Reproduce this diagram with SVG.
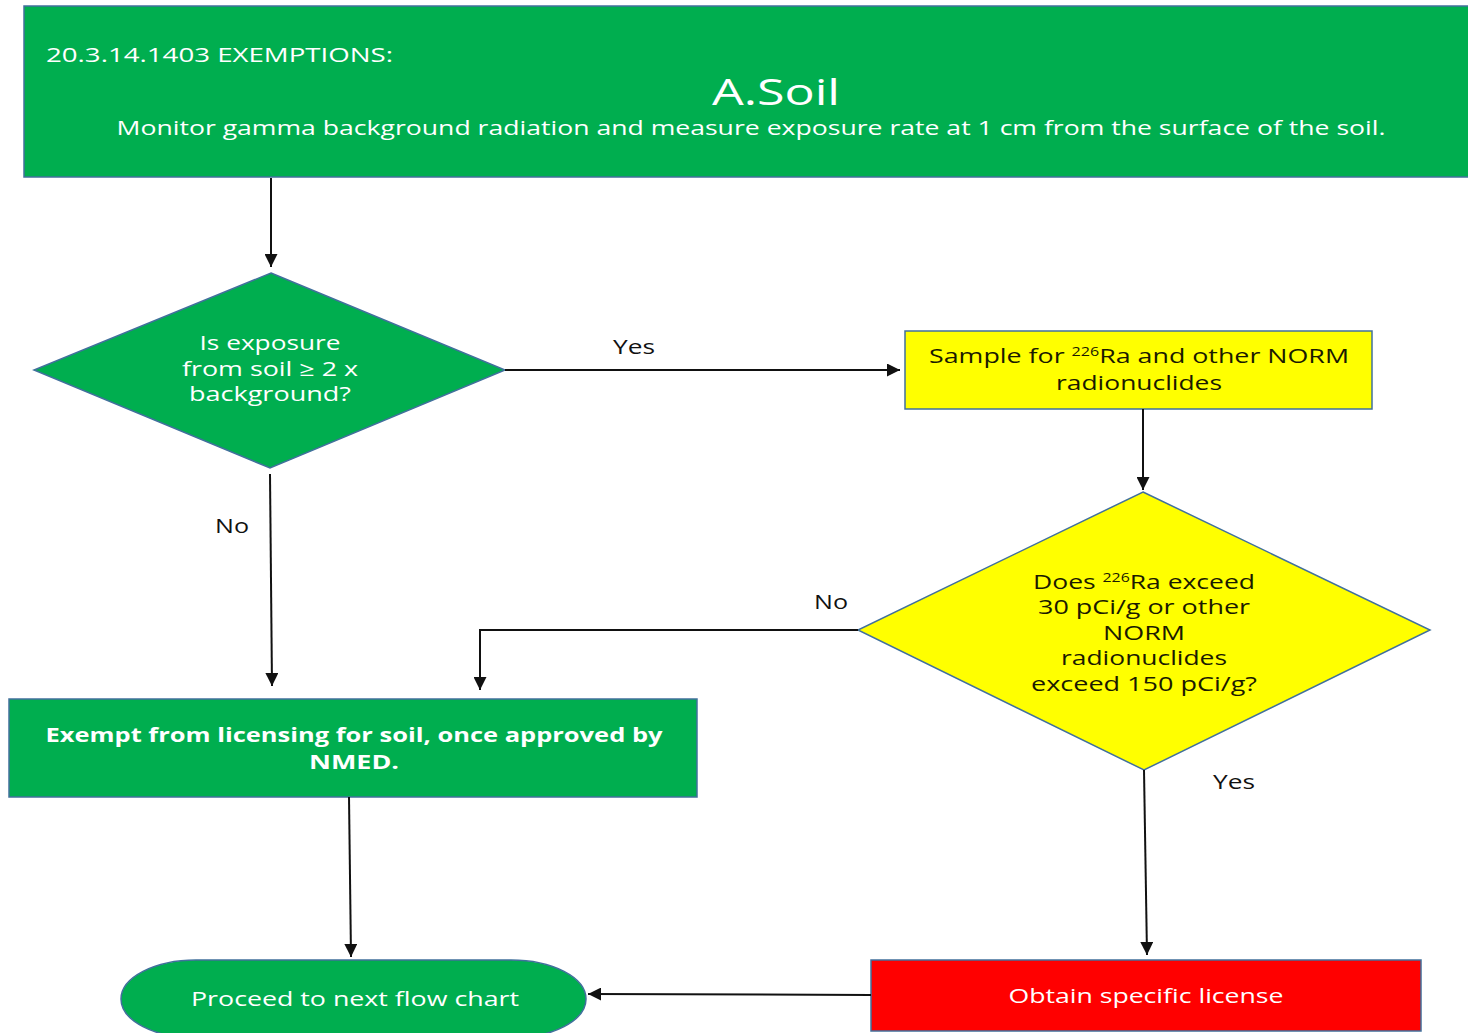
<svg xmlns="http://www.w3.org/2000/svg" width="1468" height="1033" viewBox="0 0 1468 1033">
<defs>
<style>
.g{fill:#00AE4F;stroke:#41709C;stroke-width:1.5}
.y{fill:#FFFF00;stroke:#41709C;stroke-width:1.5}
.r{fill:#FF0000;stroke:#41709C;stroke-width:1.5}
.t{font-family:"Open Sans","Liberation Sans",sans-serif;font-size:20px;text-anchor:middle}
.w{fill:#FFFFFF}
.d{fill:#1a1a00}
.b{font-weight:bold}
.lab{font-family:"Open Sans","Liberation Sans",sans-serif;font-size:20px;fill:#111}
.c{fill:none;stroke:#111;stroke-width:2}
.sup{font-size:12px}
</style>
<marker id="ah" viewBox="0 0 10 10" refX="10" refY="5" markerWidth="6.5" markerHeight="6.5" orient="auto" markerUnits="strokeWidth">
<path d="M0,0 L10,5 L0,10 z" fill="#111"/>
</marker>
</defs>
<rect width="1468" height="1033" fill="#FFFFFF"/>

<g id="header">
<rect class="g" x="24" y="6" width="1450" height="171"/>
<text class="t w" x="46" y="62" style="text-anchor:start" textLength="347" lengthAdjust="spacingAndGlyphs">20.3.14.1403  EXEMPTIONS:</text>
<text class="t w" x="776" y="105" style="font-size:36px" textLength="128" lengthAdjust="spacingAndGlyphs">A.Soil</text>
<text class="t w" x="751" y="135" textLength="1269" lengthAdjust="spacingAndGlyphs">Monitor gamma background radiation and measure exposure rate at 1 cm from the surface of the soil.</text>
</g>

<g id="decision1">
<polygon class="g" points="271,273 505,370 270,468 34,370"/>
<text class="t w" x="270" y="350" textLength="141" lengthAdjust="spacingAndGlyphs">Is exposure</text>
<text class="t w" x="270" y="376" textLength="176" lengthAdjust="spacingAndGlyphs">from soil ≥ 2 x</text>
<text class="t w" x="270" y="401" textLength="162" lengthAdjust="spacingAndGlyphs">background?</text>
</g>

<g id="sample">
<rect class="y" x="905" y="331" width="467" height="78"/>
<text class="t d" x="1139" y="363" textLength="420" lengthAdjust="spacingAndGlyphs">Sample for <tspan class="sup" dy="-7">226</tspan><tspan dy="7">Ra and other NORM</tspan></text>
<text class="t d" x="1139" y="390" textLength="166" lengthAdjust="spacingAndGlyphs">radionuclides</text>
</g>

<g id="decision2">
<polygon class="y" points="1143,492 1430,630 1144,770 858,630"/>
<text class="t d" x="1144" y="589" textLength="222" lengthAdjust="spacingAndGlyphs">Does <tspan class="sup" dy="-7">226</tspan><tspan dy="7">Ra exceed</tspan></text>
<text class="t d" x="1144" y="614" textLength="212" lengthAdjust="spacingAndGlyphs">30 pCi/g or other</text>
<text class="t d" x="1144" y="640" textLength="82" lengthAdjust="spacingAndGlyphs">NORM</text>
<text class="t d" x="1144" y="665" textLength="166" lengthAdjust="spacingAndGlyphs">radionuclides</text>
<text class="t d" x="1144" y="691" textLength="226" lengthAdjust="spacingAndGlyphs">exceed 150 pCi/g?</text>
</g>

<g id="exempt">
<rect class="g" x="9" y="699" width="688" height="98"/>
<text class="t w b" x="354" y="742" textLength="617" lengthAdjust="spacingAndGlyphs">Exempt from licensing for soil, once approved by</text>
<text class="t w b" x="354" y="769" textLength="90" lengthAdjust="spacingAndGlyphs">NMED.</text>
</g>

<g id="proceed">
<rect class="g" x="121" y="960" width="465" height="78" rx="75" ry="39"/>
<text class="t w" x="355" y="1006" textLength="328" lengthAdjust="spacingAndGlyphs">Proceed to next flow chart</text>
</g>

<g id="license">
<rect class="r" x="871" y="960" width="550" height="71"/>
<text class="t w" x="1146" y="1003" textLength="275" lengthAdjust="spacingAndGlyphs">Obtain specific license</text>
</g>

<g id="connectors">
<line class="c" x1="271" y1="178" x2="271" y2="267" marker-end="url(#ah)"/>
<line class="c" x1="505" y1="370" x2="900" y2="370" marker-end="url(#ah)"/>
<line class="c" x1="1143" y1="409" x2="1143" y2="490" marker-end="url(#ah)"/>
<polyline class="c" points="858,630 480,630 480,690" marker-end="url(#ah)"/>
<line class="c" x1="270" y1="474" x2="272" y2="686" marker-end="url(#ah)"/>
<line class="c" x1="349" y1="797" x2="351" y2="957" marker-end="url(#ah)"/>
<line class="c" x1="1144" y1="770" x2="1147" y2="955" marker-end="url(#ah)"/>
<line class="c" x1="871" y1="995" x2="588" y2="994" marker-end="url(#ah)"/>
<text class="lab" x="613" y="354" textLength="42" lengthAdjust="spacingAndGlyphs">Yes</text>
<text class="lab" x="215" y="533" textLength="34" lengthAdjust="spacingAndGlyphs">No</text>
<text class="lab" x="814" y="609" textLength="34" lengthAdjust="spacingAndGlyphs">No</text>
<text class="lab" x="1213" y="789" textLength="42" lengthAdjust="spacingAndGlyphs">Yes</text>
</g>
</svg>
